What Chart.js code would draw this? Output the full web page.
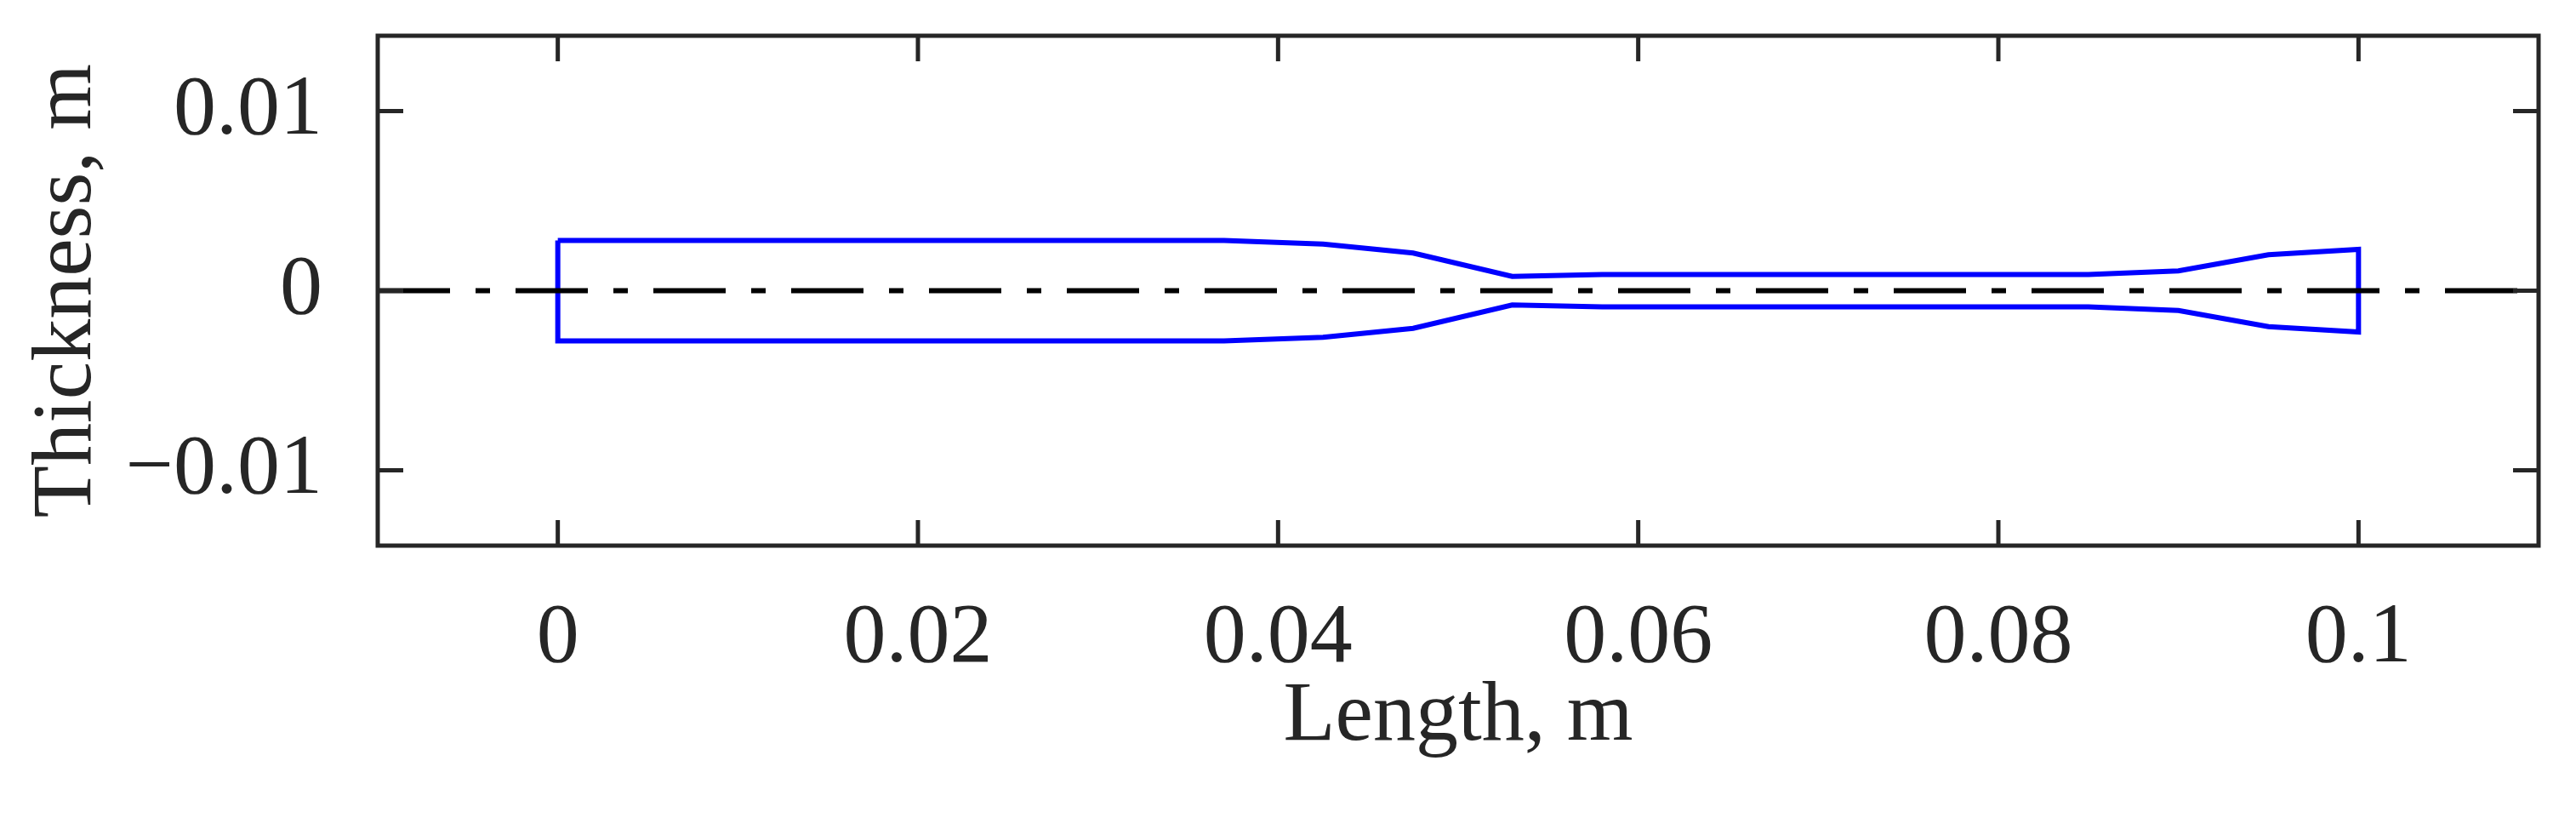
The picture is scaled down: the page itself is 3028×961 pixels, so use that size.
<!DOCTYPE html>
<html>
<head>
<script src="https://cdn.jsdelivr.net/npm/chart.js@4"></script>
<style>
html,body{margin:0;padding:0;background:#fff;}
#wrap{width:3028px;height:961px;}
</style>
</head>
<body>
<div id="wrap"><canvas id="c" width="3028" height="961"></canvas></div>
<script>
// profile of the blade, top edge (bottom is the mirror)
const lengthX = [0, 0.037, 0.0425, 0.0475, 0.053, 0.058, 0.085, 0.09, 0.095, 0.1];
const topY    = [0.0028, 0.0028, 0.0026, 0.0021, 0.0008, 0.0009, 0.0009, 0.0011, 0.0020, 0.0023];
const centerX = [-0.01, 0.11];
const xTicks = [0, 0.02, 0.04, 0.06, 0.08, 0.1];
const yTicks = [-0.01, 0, 0.01];

// closed outline: top left->right, then bottom right->left
const outline = [];
lengthX.forEach((x, i) => outline.push({x: x, y: topY[i]}));
for (let i = lengthX.length - 1; i >= 0; i--) outline.push({x: lengthX[i], y: -topY[i]});
outline.push({x: lengthX[0], y: topY[0]});

const fmt = v => {
  if (Math.abs(v) < 1e-12) return '0';
  const s = String(+v.toFixed(3));
  return v < 0 ? '\u2212' + s.slice(1) : s;
};

// inward ticks on all four sides
const innerTicks = {
  id: 'innerTicks',
  afterDatasetsDraw(chart) {
    const {ctx, chartArea: a, scales: {x, y}} = chart;
    const L = 30;
    ctx.save();
    ctx.strokeStyle = '#262626';
    ctx.lineWidth = 5;
    ctx.beginPath();
    xTicks.forEach(v => {
      const px = x.getPixelForValue(v);
      ctx.moveTo(px, a.bottom); ctx.lineTo(px, a.bottom - L);
      ctx.moveTo(px, a.top); ctx.lineTo(px, a.top + L);
    });
    yTicks.forEach(v => {
      const py = y.getPixelForValue(v);
      ctx.moveTo(a.left, py); ctx.lineTo(a.left + L, py);
      ctx.moveTo(a.right, py); ctx.lineTo(a.right - L, py);
    });
    ctx.stroke();
    ctx.strokeRect(a.left, a.top, a.right - a.left, a.bottom - a.top);
    ctx.restore();
  }
};

const font = {family: "'Liberation Serif', 'Times New Roman', serif", size: 100};

new Chart(document.getElementById('c').getContext('2d'), {
  type: 'scatter',
  data: {
    datasets: [
      { data: centerX.map(x => ({x: x, y: 0})), showLine: true, borderColor: '#000',
        borderWidth: 6, borderDash: [85, 30, 17, 30], pointRadius: 0 },
      { data: outline, showLine: true, borderColor: '#0000ff', borderWidth: 6,
        pointRadius: 0, tension: 0 }
    ]
  },
  options: {
    responsive: false,
    animation: false,
    layout: {padding: {top: 42, right: 44, left: 0, bottom: 0}},
    plugins: {legend: {display: false}, tooltip: {enabled: false}},
    scales: {
      x: {
        type: 'linear', min: -0.01, max: 0.11,
        afterBuildTicks: s => { s.ticks = xTicks.map(v => ({value: v})); },
        afterFit: s => { s.height = 320; s.paddingLeft = 0; s.paddingRight = 0; },
        grid: {display: false}, border: {display: false},
        ticks: {color: '#262626', font: font, padding: 42, maxRotation: 0, callback: fmt},
        title: {display: true, text: 'Length, m', color: '#262626', font: font, padding: {top: 0, bottom: 58}}
      },
      y: {
        type: 'linear', min: -0.0142, max: 0.0142,
        afterBuildTicks: s => { s.ticks = yTicks.map(v => ({value: v})); },
        afterFit: s => { s.width = 444; s.paddingTop = 0; s.paddingBottom = 0; },
        grid: {display: false}, border: {display: false},
        ticks: {color: '#262626', font: font, padding: 57, callback: fmt},
        title: {display: true, text: 'Thickness, m', color: '#262626', font: font, padding: {top: 20, bottom: 0}}
      }
    }
  },
  plugins: [innerTicks]
});
</script>
</body>
</html>
